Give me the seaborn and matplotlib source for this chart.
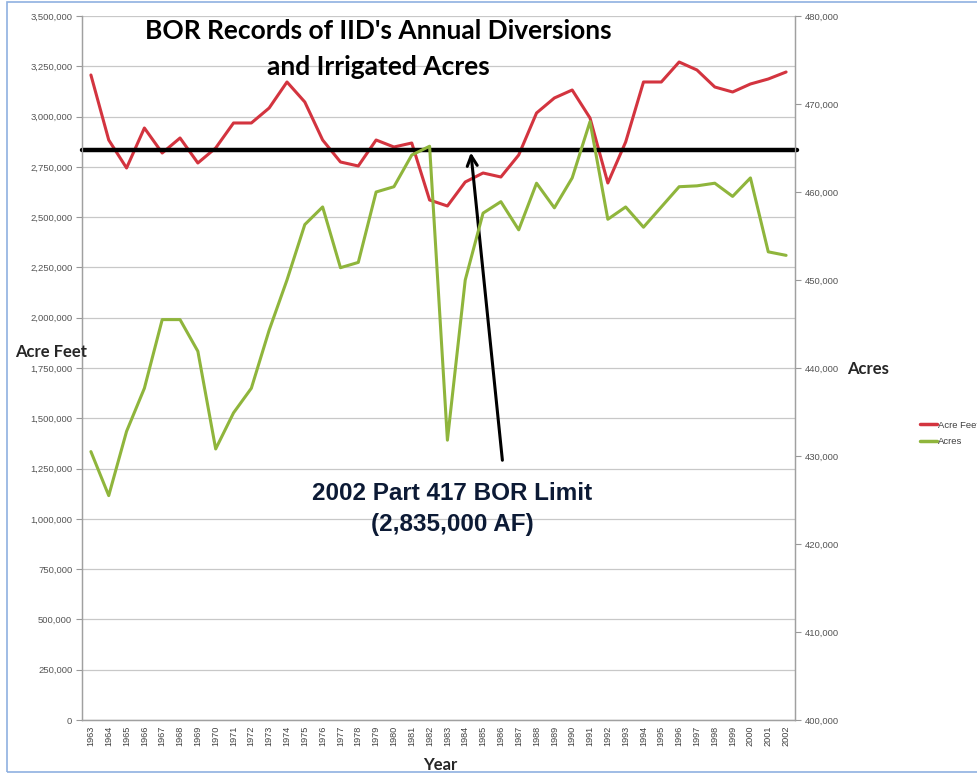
import matplotlib
matplotlib.use('Agg')
import matplotlib.pyplot as plt
import matplotlib.ticker as mticker
import seaborn as sns
import pandas as pd
from matplotlib.lines import Line2D
from matplotlib.patches import Rectangle

# Data
years = list(range(1963, 2003))
acre_feet = [3206700, 2883500, 2744300, 2943200, 2818900, 2893500, 2769200, 2843800,
             2968100, 2968100, 3042600, 3171900, 3072400, 2883500, 2774200, 2754300,
             2883500, 2848700, 2868600, 2585200, 2555400, 2674700, 2719500, 2699600,
             2809000, 3017800, 3092400, 3132100, 2992900, 2669800, 2873600, 3171900,
             3171900, 3271300, 3231500, 3147000, 3122200, 3162000, 3186800, 3221600]
acres = [430500, 425500, 432800, 437700, 445500, 445500, 441900, 430800,
         434900, 437700, 444300, 450000, 456300, 458300, 451400, 452000,
         460000, 460600, 464200, 465200, 431800, 450000, 457600, 458900,
         455700, 461000, 458200, 461600, 468000, 456900, 458300, 456000,
         458300, 460600, 460700, 461000, 459500, 461600, 453200, 452800]
bor_limit = 2835000
arrow_tail = (1986.1, 1277700)
arrow_head_year = 1984.3

df = pd.DataFrame({'Year': years, 'Acre Feet': acre_feet, 'Acres': acres})

RED = '#d3343f'
GREEN = '#8fb53c'
TICK = '#555555'

sns.set_style('white')
plt.rcParams['font.family'] = ['Liberation Sans', 'DejaVu Sans']

fig = plt.figure(figsize=(9.78, 7.78), dpi=100)
ax = fig.add_axes([82 / 978, 1 - 720 / 778, (795 - 82) / 978, (720 - 16) / 778])
ax2 = ax.twinx()

sns.lineplot(data=df, x='Year', y='Acre Feet', color=RED, linewidth=2.2, ax=ax)
sns.lineplot(data=df, x='Year', y='Acres', color=GREEN, linewidth=2.2, ax=ax2)

ax.set_xlim(1962.5, 2002.5)
ax.set_ylim(0, 3500000)
ax2.set_ylim(400000, 480000)

ax.yaxis.set_major_locator(mticker.MultipleLocator(250000))
ax2.yaxis.set_major_locator(mticker.MultipleLocator(10000))
fmt = mticker.FuncFormatter(lambda v, p: f'{int(v):,}')
ax.yaxis.set_major_formatter(fmt)
ax2.yaxis.set_major_formatter(fmt)
ax.grid(axis='y', color='#c8c8c8', linewidth=0.9)
ax.set_axisbelow(True)

ax.set_xticks(years)
ax.set_xticklabels([str(y) for y in years], rotation=90, fontsize=6.6, color='#404040')
ax.set_xticks([y + 0.5 for y in years[:-1]], minor=True)
ax.tick_params(axis='x', which='major', length=0, pad=4)
ax.tick_params(axis='x', which='minor', length=4, color='#999999', direction='out')
ax.tick_params(axis='y', labelsize=6.8, labelcolor=TICK, length=4, color='#999999',
               direction='out', left=True, pad=3)
ax2.tick_params(axis='y', labelsize=6.8, labelcolor=TICK, length=4, color='#999999',
                direction='out', right=True, pad=3)

for a in (ax, ax2):
    a.spines['top'].set_visible(False)
    for side in ('left', 'right', 'bottom'):
        a.spines[side].set_color('#a0a0a0')
        a.spines[side].set_linewidth(0.9)

ax.set_xlabel('')
ax.set_ylabel('')
ax2.set_ylabel('')

# BOR limit line and arrow
ax.axhline(bor_limit, xmin=0.0, xmax=1.003, color='black', linewidth=3.2, clip_on=False, zorder=5)
ax.annotate('', xy=(arrow_head_year, bor_limit), xytext=arrow_tail,
            arrowprops=dict(arrowstyle='->', color='black', lw=2.2, mutation_scale=18),
            zorder=6)

fig.text(452 / 978, 1 - 509 / 778, '2002 Part 417 BOR Limit\n(2,835,000 AF)',
         ha='center', va='center', fontsize=17.5, fontweight='heavy', color='#0c1a35',
         linespacing=1.5)

# titles and axis labels
fig.text(378 / 978, 1 - 49 / 778, "BOR Records of IID's Annual Diversions\nand Irrigated Acres",
         ha='center', va='center', fontsize=19, fontweight='bold', family=['Lato', 'DejaVu Sans'],
         linespacing=1.6, color='black')
fig.text(15 / 978, 1 - 352 / 778, 'Acre Feet', ha='left', va='center', fontsize=12,
         fontweight='bold', family=['Lato', 'DejaVu Sans'])
fig.text(847 / 978, 1 - 369 / 778, 'Acres', ha='left', va='center', fontsize=12,
         fontweight='bold', family=['Lato', 'DejaVu Sans'])
fig.text(440 / 978, 1 - 765 / 778, 'Year', ha='center', va='center', fontsize=12,
         fontweight='bold', family=['Lato', 'DejaVu Sans'])

# legend
handles = [Line2D([], [], color=RED, linewidth=2.5), Line2D([], [], color=GREEN, linewidth=2.5)]
fig.legend(handles, ['Acre Feet', 'Acres'], loc='upper left',
           bbox_to_anchor=(912 / 978, 1 - 412 / 778), frameon=False, fontsize=6.8,
           handlelength=1.8, handletextpad=0.1, labelspacing=0.8, labelcolor='#404040')

# thin blue frame around the picture
fig.patches.append(Rectangle((7 / 978, 0.008), 1.2, 0.99, transform=fig.transFigure,
                             fill=False, edgecolor='#8fb0e0', linewidth=1.2))

fig.savefig('out.png', dpi=100)
